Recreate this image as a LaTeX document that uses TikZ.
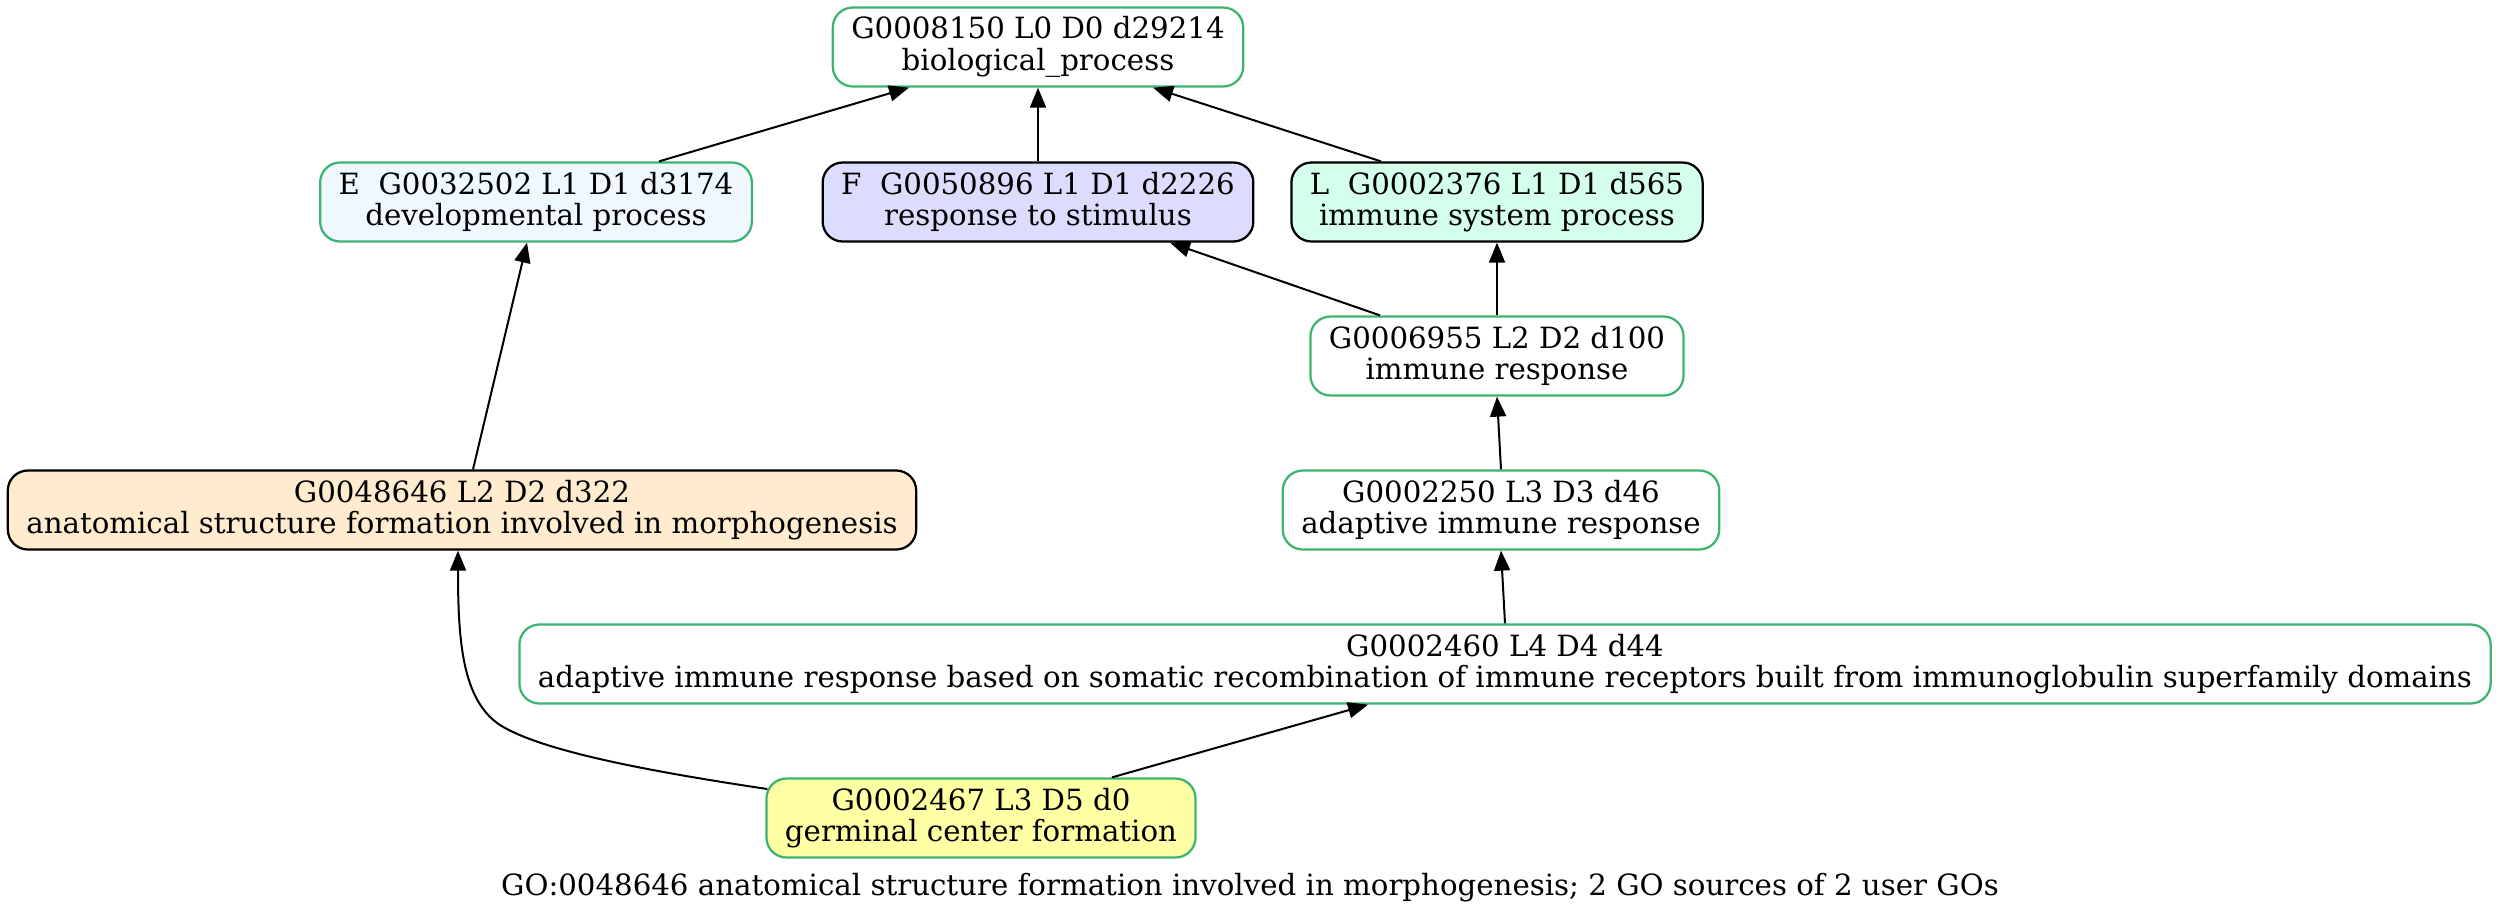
\documentclass[tikz,border=0pt]{standalone}
\usepackage{fontspec}
\setmainfont{DejaVu Serif}
\usetikzlibrary{arrows.meta,calc}
\definecolor{gborder}{HTML}{3CB371}
\definecolor{eblue}{HTML}{F0F8FF}
\definecolor{fblue}{HTML}{DCDCFF}
\definecolor{lgreen}{HTML}{D4FFEA}
\definecolor{orng}{HTML}{FFEBCD}
\definecolor{yel}{HTML}{FFFFA4}
\begin{document}
\begin{tikzpicture}[x=0.4pt,y=-0.4pt,
  box/.style={draw=gborder, fill=white, line width=0.9pt, rounded corners=8pt, align=center,
    inner xsep=7.4pt, inner ysep=0pt, minimum height=31.6pt,
    font=\fontsize{11.7pt}{12.6pt}\selectfont},
  blk/.style={box, draw=black},
  edge/.style={-{Triangle[length=8pt,width=6.4pt]}, line width=0.8pt}]
\useasboundingbox (0,0) rectangle (2503,915);
\node[box] (bp) at (1038,47) {G0008150 L0 D0 d29214\\biological\_process};
\node[box, fill=eblue] (E) at (536,202) {E\ \ G0032502 L1 D1 d3174\\developmental process};
\node[blk, fill=fblue] (F) at (1038,202) {F\ \ G0050896 L1 D1 d2226\\response to stimulus};
\node[blk, fill=lgreen] (L) at (1497,202) {L\ \ G0002376 L1 D1 d565\\immune system process};
\node[box] (ir) at (1497,356) {G0006955 L2 D2 d100\\immune response};
\node[blk, fill=orng] (asf) at (462,510) {G0048646 L2 D2 d322\\anatomical structure formation involved in morphogenesis};
\node[box] (air) at (1501,510) {G0002250 L3 D3 d46\\adaptive immune response};
\node[box] (air2) at (1505,664) {G0002460 L4 D4 d44\\adaptive immune response based on somatic recombination of immune receptors built from immunoglobulin superfamily domains};
\node[box, fill=yel] (gcf) at (981,818) {G0002467 L3 D5 d0\\germinal center formation};
\node[anchor=base, font=\fontsize{11.7pt}{12.6pt}\selectfont] (cap) at (1250,895) {GO:0048646 anatomical structure formation involved in morphogenesis; 2 GO sources of 2 user GOs};
\draw[edge] ($(E.north)+(123,0)$) -- ($(bp.south)+(-129,0)$);
\draw[edge] (F.north) -- (bp.south);
\draw[edge] ($(L.north)+(-116,0)$) -- ($(bp.south)+(115,0)$);
\draw[edge] ($(ir.north)+(-117,0)$) -- ($(F.south)+(132,0)$);
\draw[edge] (ir.north) -- (L.south);
\draw[edge] (air.north) -- (ir.south);
\draw[edge] (air2.north) -- (air.south);
\draw[edge] ($(gcf.north)+(131,0)$) -- ($(air2.south)+(-137,0)$);
\draw[edge] ($(asf.north)+(11,0)$) -- ($(E.south)+(-9,0)$);
\draw[edge] ($(gcf.west)+(2,-29)$) .. controls (640,770) and (540,750) .. (500,725) .. controls (462,700) and (458,640) .. ($(asf.south)+(-4,0)$);
\end{tikzpicture}
\end{document}
